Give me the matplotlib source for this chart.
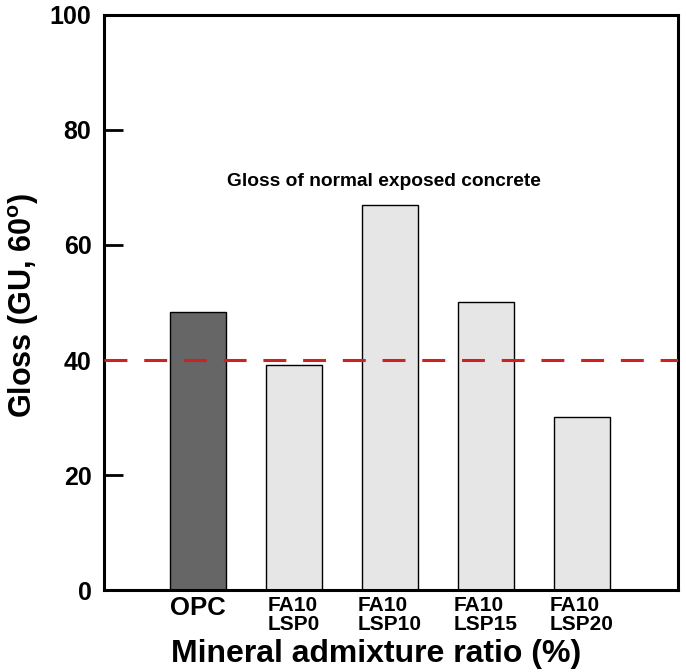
import matplotlib
matplotlib.use("Agg")
import matplotlib.pyplot as plt

plt.rcParams['font.family'] = ['Liberation Sans', 'DejaVu Sans']
plt.rcParams['font.weight'] = 'bold'
plt.rcParams['mathtext.fontset'] = 'custom'
plt.rcParams['mathtext.rm'] = 'Liberation Sans:bold'
plt.rcParams['mathtext.bf'] = 'Liberation Sans:bold'

categories = ['OPC', 'FA10\nLSP0', 'FA10\nLSP10', 'FA10\nLSP15', 'FA10\nLSP20']
gloss = [48.3, 39.1, 67.0, 50.1, 30.1]
bar_colors = ['#666666', '#e6e6e6', '#e6e6e6', '#e6e6e6', '#e6e6e6']
normal_gloss = 40
yticks = [0, 20, 40, 60, 80, 100]

fig = plt.figure(figsize=(6.86, 6.72), dpi=100)
ax = fig.add_axes([0.1516, 0.122, 0.8367, 0.8557])

x = list(range(len(categories)))
ax.bar(x, gloss, width=0.59, color=bar_colors, edgecolor='black', linewidth=1.0, zorder=2)
ax.axhline(normal_gloss, color='#cc2222', linestyle=(0, (7.5, 5.5)), linewidth=2.2, zorder=3)
ax.text(1.94, 71, 'Gloss of normal exposed concrete', ha='center', va='center',
        fontsize=13.8, fontweight='bold')

ax.set_xlim(-0.98, 5.0)
ax.set_ylim(0, 100)
ax.set_yticks(yticks)
ax.set_xticks(x)
ax.set_xticklabels(categories, fontsize=15, fontweight='bold',
                   multialignment='left', linespacing=1.0)
ax.get_xticklabels()[0].set_fontsize(18.5)

ax.tick_params(axis='y', direction='in', length=14, width=2, labelsize=18, pad=9)
ax.tick_params(axis='x', length=0, pad=4)
for s in ax.spines.values():
    s.set_linewidth(2.2)

ax.set_xlabel('Mineral admixture ratio (%)', fontsize=23, fontweight='bold')
ax.xaxis.set_label_coords(0.474, -0.085)
ax.set_ylabel(r'Gloss (GU, 60$^{\mathrm{o}}$)', fontsize=22, fontweight='bold')
ax.yaxis.set_label_coords(-0.11, 0.495)

fig.savefig('out.png', dpi=100)
